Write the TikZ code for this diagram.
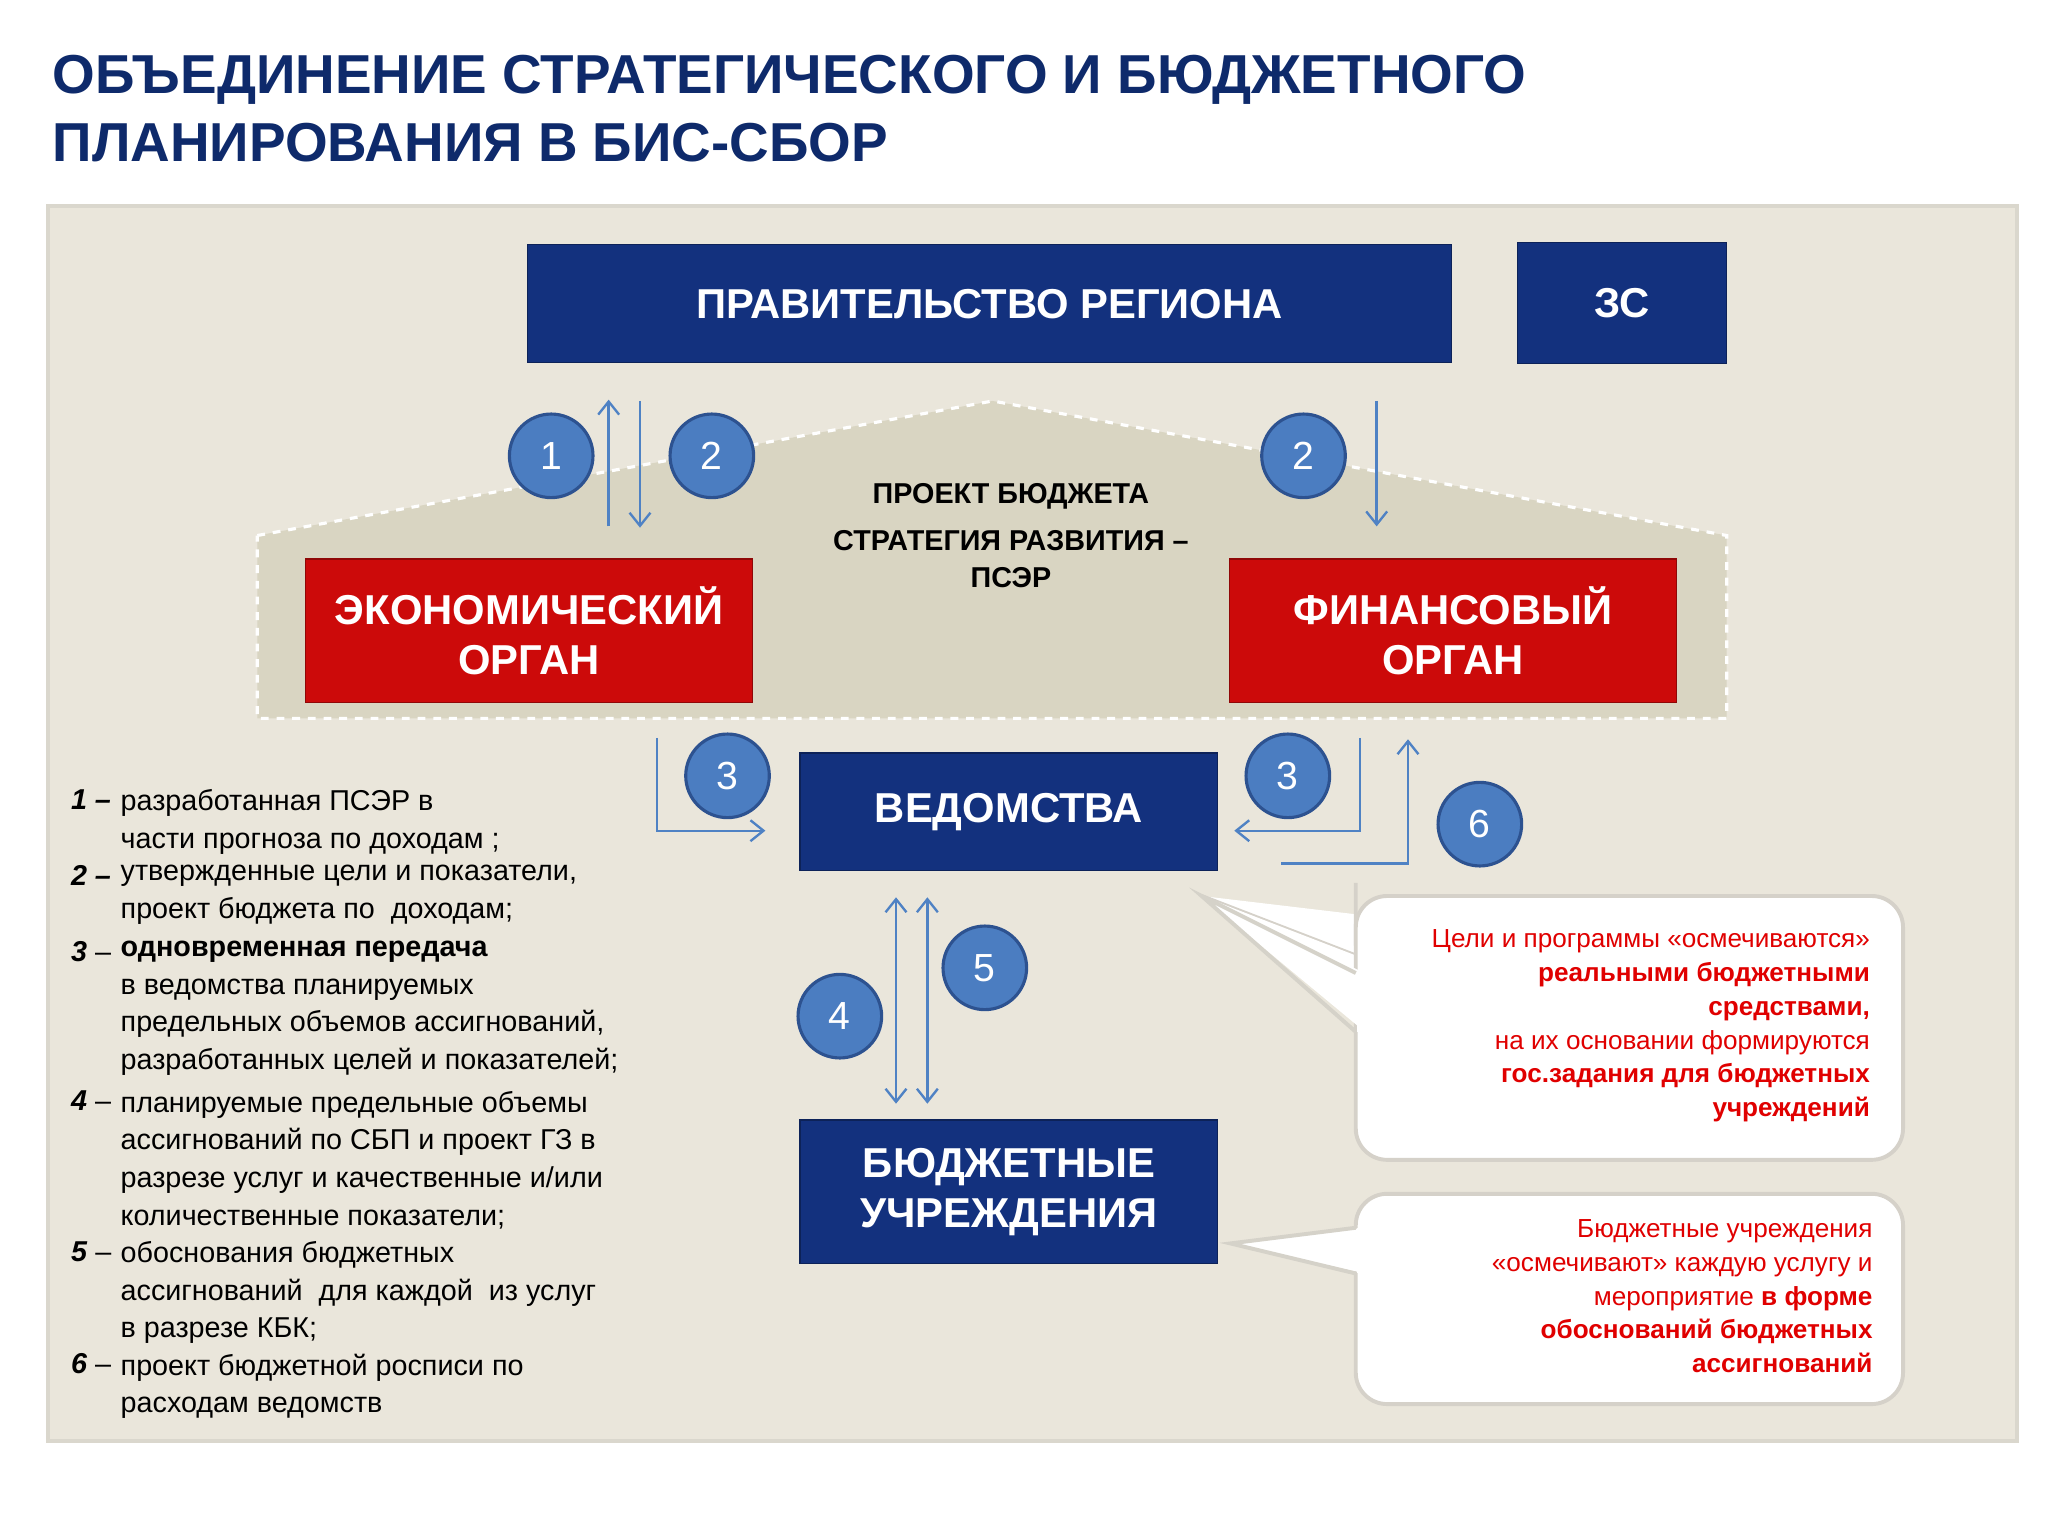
\documentclass[tikz,border=0pt]{standalone}
\usepackage{fontspec}
\setmainfont{Liberation Sans}
\usetikzlibrary{arrows.meta}
\definecolor{navy}{HTML}{13317E}
\definecolor{titleblue}{HTML}{0E2A6B}
\definecolor{redbox}{HTML}{CC0A0A}
\definecolor{panel}{HTML}{EAE6DB}
\definecolor{inner}{HTML}{D9D5C2}
\definecolor{circ}{HTML}{4B7DC1}
\definecolor{circb}{HTML}{2D5290}
\definecolor{arr}{HTML}{4F82C4}
\definecolor{ctext}{HTML}{E00000}
\tikzset{
 bluebox/.style={draw=navy!70!black,fill=navy,text=white,font=\bfseries\fontsize{16}{19}\selectfont,align=center,inner sep=0},
 redb/.style={draw=redbox!70!black,fill=redbox,text=white,font=\bfseries\fontsize{16}{19}\selectfont,align=center,inner sep=0},
 num/.style={circle,draw=circb,line width=1.2pt,fill=circ,text=white,minimum size=32pt,inner sep=0,font=\fontsize{15}{15}\selectfont},
 arrw/.style={draw=arr,line width=0.9pt,-{Straight Barb[length=5pt,width=8pt]}},
 leg/.style={anchor=north west,inner sep=0,align=left,font=\fontsize{11}{14.4}\selectfont},
 call/.style={fill=white,draw=panel!80!gray,line width=1.5pt,rounded corners=12pt},
 ctxt/.style={anchor=north east,inner sep=0,align=right,text=ctext,font=\fontsize{10}{13}\selectfont}
}
\begin{document}
\begin{tikzpicture}[x=0.5pt,y=-0.5pt]
\useasboundingbox (0,0) rectangle (1568,1176);
\fill[white] (0,0) rectangle (1568,1176);
\node[anchor=north west,inner sep=0,align=left,text=titleblue,font=\bfseries\fontsize{21}{26}\selectfont] (title) at (40,42) {ОБЪЕДИНЕНИЕ СТРАТЕГИЧЕСКОГО И БЮДЖЕТНОГО\\ПЛАНИРОВАНИЯ В БИС-СБОР};
\draw[fill=panel,draw=panel!85!gray,line width=1.5pt] (37,158) rectangle (1544,1103);
\draw[fill=inner,draw=white,dashed,line width=1.2pt] (197,410)--(760,307)--(1322,410)--(1322,550)--(197,550)--cycle;
\node[bluebox,minimum width=354pt,minimum height=45pt] (gov) at (757.5,232.5) {ПРАВИТЕЛЬСТВО РЕГИОНА};
\node[bluebox,minimum width=80pt,minimum height=46pt] (zs) at (1242,232) {ЗС};
\node[bluebox,minimum width=160pt,minimum height=45pt] (ved) at (772.5,621.5) {ВЕДОМСТВА};
\node[bluebox,minimum width=160pt,minimum height=55pt] (bu) at (772.5,912.5) {БЮДЖЕТНЫЕ\\УЧРЕЖДЕНИЯ};
\node[redb,minimum width=171pt,minimum height=55pt] (eco) at (405,483) {ЭКОНОМИЧЕСКИЙ\\ОРГАН};
\node[redb,minimum width=171pt,minimum height=55pt] (fin) at (1112.5,483) {ФИНАНСОВЫЙ\\ОРГАН};
\node[align=center,inner sep=0,font=\bfseries\fontsize{11}{18}\selectfont] (proj) at (774,410) {ПРОЕКТ БЮДЖЕТА\\СТРАТЕГИЯ РАЗВИТИЯ –\\[-4pt]ПСЭР};
% arrows
\coordinate (a1s) at (466,403); \coordinate (a1e) at (466,306);
\draw[arrw] (a1s)--(a1e);
\coordinate (a2s) at (490,307); \coordinate (a2e) at (490,404);
\draw[arrw] (a2s)--(a2e);
\coordinate (a3s) at (1054,307); \coordinate (a3e) at (1054,403);
\draw[arrw] (a3s)--(a3e);
\coordinate (b1) at (503,565); \coordinate (b2) at (586,636);
\draw[arrw] (b1)|-(b2);
\coordinate (c1) at (1041,565); \coordinate (c2) at (945,636);
\draw[arrw] (c1)|-(c2);
\coordinate (d1) at (981,661); \coordinate (d2) at (1078,566);
\draw[arrw] (d1)-|(d2);
\coordinate (e1) at (686,845); \coordinate (e2) at (686,687);
\draw[arrw,{Straight Barb[length=5pt,width=8pt]}-{Straight Barb[length=5pt,width=8pt]}] (e1)--(e2);
\coordinate (f1) at (710,845); \coordinate (f2) at (710,687);
\draw[arrw,{Straight Barb[length=5pt,width=8pt]}-{Straight Barb[length=5pt,width=8pt]}] (f1)--(f2);
% circles
\node[num] (n1) at (422,349) {1};
\node[num] (n2) at (545,349) {2};
\node[num] (n2b) at (998,349) {2};
\node[num] (n3) at (557,594) {3};
\node[num] (n3b) at (986,594) {3};
\node[num] (n6) at (1133,631) {6};
\node[num] (n5) at (754,741) {5};
\node[num] (n4) at (643,778) {4};
% callouts
\draw[call] (920,686)--(1060,740)--(1038,740)--(1038,700) arc[start angle=180,end angle=270,radius=0] (1038,700) -- (1038,686) -- cycle;
\fill[white] (920,686)--(1060,740)--(1060,800)--cycle;
\draw[call] (1038,686) rectangle (1457,888);
\fill[white] (922,688)--(1045,745)--(1045,790)--cycle;
\draw[panel!80!gray,line width=1.5pt] (1038,745)--(920,686)--(1038,790);
\fill[white] (1039,745) rectangle (1048,790);
\draw[call] (1038,914) rectangle (1457,1075);
\fill[white] (942,952)--(1045,940)--(1045,975)--cycle;
\draw[panel!80!gray,line width=1.5pt] (1038,940)--(942,952)--(1038,975);
\fill[white] (1039,940) rectangle (1048,975);
\node[ctxt] (t1) at (1432,711) {Цели и программы «осмечиваются»\\ \textbf{реальными бюджетными}\\ \textbf{средствами,}\\ на их основании формируются\\ \textbf{гос.задания для бюджетных}\\ \textbf{учреждений}};
\node[ctxt] (t2) at (1434,933) {Бюджетные учреждения\\ «осмечивают» каждую услугу и\\ мероприятие \textbf{в форме}\\ \textbf{обоснований бюджетных}\\ \textbf{ассигнований}};
% legend
\foreach \n/\y/\lab in {l1/604/{\textbf{\textit{1 –}}},l2/662/{\textbf{\textit{2 –}}},l3/720/{\textbf{\textit{3}} –},l4/835/{\textbf{\textit{4}} –},l5/950/{\textbf{\textit{5}} –},l6/1036/{\textbf{\textit{6}} –}}
  \node[leg] (\n) at (54,\y) {\lab};
\node[leg] (m1) at (92,604) {разработанная ПСЭР в\\части прогноза по доходам ;};
\node[leg] (m2) at (92,662) {утвержденные цели и показатели,\\проект бюджета по\ \ доходам;};
\node[leg] (m3) at (92,720) {\textbf{одновременная передача}\\в ведомства планируемых\\предельных объемов ассигнований,\\разработанных целей и показателей;};
\node[leg] (m4) at (92,835) {планируемые предельные объемы\\ассигнований по СБП и проект ГЗ в\\разрезе услуг и качественные и/или\\количественные показатели;};
\node[leg] (m5) at (92,950) {обоснования бюджетных\\ассигнований\ \ для каждой\ \ из услуг\\в разрезе КБК;};
\node[leg] (m6) at (92,1036) {проект бюджетной росписи по\\расходам ведомств};
\end{tikzpicture}
\end{document}
